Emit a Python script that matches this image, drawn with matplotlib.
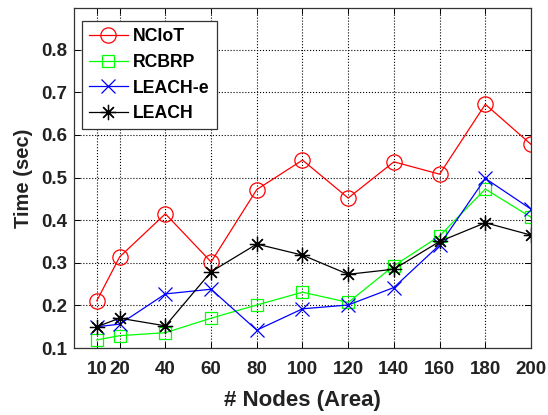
import matplotlib
matplotlib.use("Agg")
import matplotlib.pyplot as plt

nodes = [10, 20, 40, 60, 80, 100, 120, 140, 160, 180, 200]
nciot = [0.211, 0.314, 0.415, 0.302, 0.472, 0.541, 0.452, 0.537, 0.508, 0.672, 0.578]
rcbrp = [0.119, 0.129, 0.136, 0.170, 0.201, 0.231, 0.207, 0.293, 0.363, 0.473, 0.407]
leach_e = [0.150, 0.156, 0.227, 0.238, 0.142, 0.192, 0.201, 0.242, 0.342, 0.498, 0.426]
leach = [0.150, 0.170, 0.152, 0.279, 0.344, 0.318, 0.273, 0.285, 0.350, 0.394, 0.365]
yticks = [0.1, 0.2, 0.3, 0.4, 0.5, 0.6, 0.7, 0.8]

plt.rcParams['font.family'] = ['Liberation Sans', 'DejaVu Sans']
plt.rcParams['font.weight'] = 'bold'

fig = plt.figure(figsize=(5.48, 4.15), dpi=100)
ax = fig.add_axes([0.135, 0.1614, 0.834, 0.8193])

ax.plot(nodes, nciot, color='#ff0000', lw=0.9, marker='o', ms=11, mfc='none', mec='#ff0000', mew=0.9, label='NCIoT')
ax.plot(nodes, rcbrp, color='#00ff00', lw=0.9, marker='s', ms=9, mfc='none', mec='#00ff00', mew=0.9, label='RCBRP')
ax.plot(nodes, leach_e, color='#0000ff', lw=0.9, marker='x', ms=10, mec='#0000ff', mew=0.9, label='LEACH-e')
ax.plot(nodes, leach, color='black', lw=0.9, marker=(8, 2, 0), ms=11, mec='black', mew=0.9, label='LEACH')

ax.set_xlim(0, 200)
ax.set_ylim(0.1, 0.898)
ax.set_xticks(nodes)
ax.set_yticks(yticks)
ax.set_xticklabels([str(n) for n in nodes])
ax.set_yticklabels([f"{t:.1f}" for t in yticks])
ax.tick_params(direction='in', top=True, right=True, length=4, width=0.7, labelsize=13.5, colors='black')
ax.tick_params(axis='x', labelcolor='#222222', pad=9)
ax.tick_params(axis='y', labelcolor='#222222', pad=5)
for lbl in ax.get_xticklabels() + ax.get_yticklabels():
    lbl.set_fontweight('bold')
ax.grid(True, linestyle=':', color='black', lw=0.8)
for s in ax.spines.values():
    s.set_linewidth(0.9)
    s.set_color('#333333')

ax.set_xlabel('# Nodes (Area)', fontsize=16, fontweight='bold', labelpad=9, color='#222222')
ax.set_ylabel('Time (sec)', fontsize=14.5, fontweight='bold', labelpad=6, color='#222222')

leg = ax.legend(loc='upper left', bbox_to_anchor=(0.0175, 0.962), borderaxespad=0, fancybox=False, framealpha=1,
                edgecolor='#333333', prop={'family': 'Liberation Sans', 'weight': 'bold', 'size': 12.7},
                handlelength=2.2, borderpad=0.4, labelspacing=0.5, handletextpad=0.3)
leg.get_frame().set_linewidth(0.9)
for t in leg.get_texts():
    t.set_fontweight('bold')
    t.set_color('black')

fig.savefig('out.png', dpi=100)
